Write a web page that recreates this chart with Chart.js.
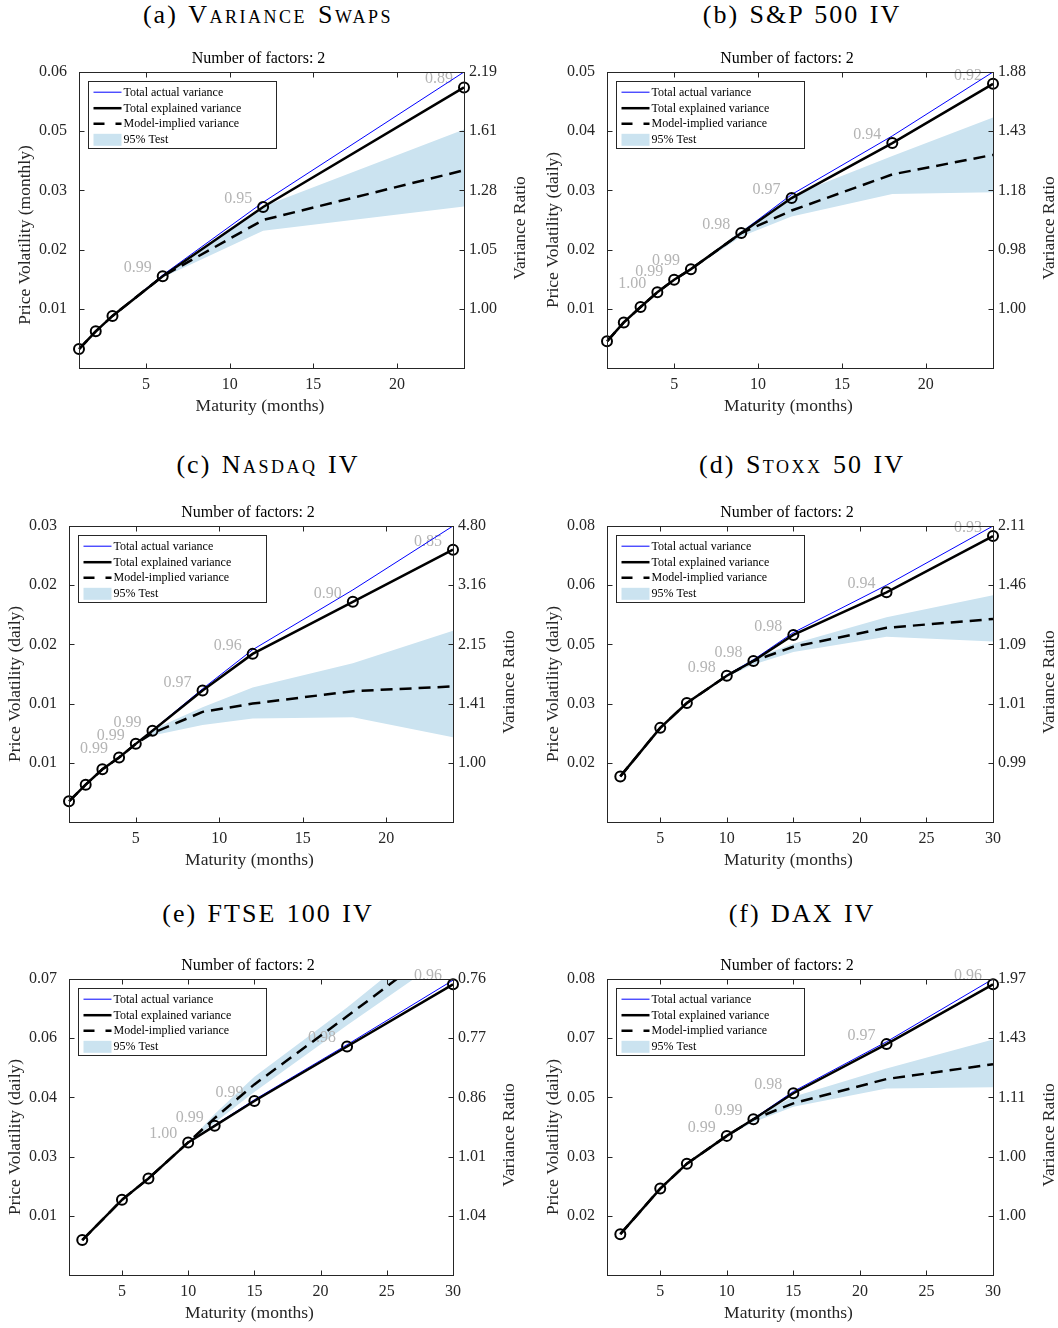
<!DOCTYPE html>
<html><head><meta charset="utf-8">
<script src="https://cdn.jsdelivr.net/npm/chart.js@4.4.1/dist/chart.umd.min.js"></script>
<style>
html,body{margin:0;padding:0;background:#fff;width:1058px;height:1328px;overflow:hidden;}
#fig{position:relative;width:1058px;height:1328px;}
canvas{position:absolute;}
.cap{position:absolute;font-family:'Liberation Serif','Times New Roman',serif;font-size:26px;line-height:30px;letter-spacing:2px;word-spacing:2px;text-align:center;white-space:nowrap;color:#000;}
.sc{font-variant:small-caps;letter-spacing:2.5px;}
</style></head><body>
<div id="fig">
  <div class="cap" style="left:0;width:536px;top:0px">(a) <span class="sc">Variance Swaps</span></div>
  <div class="cap" style="left:529px;width:546px;top:0px">(b) S&amp;P 500 IV</div>
  <div class="cap" style="left:0;width:536px;top:450px">(c) <span class="sc">Nasdaq</span> IV</div>
  <div class="cap" style="left:529px;width:546px;top:450px">(d) <span class="sc">Stoxx</span> 50 IV</div>
  <div class="cap" style="left:0;width:536px;top:899px">(e) FTSE 100 IV</div>
  <div class="cap" style="left:529px;width:546px;top:899px">(f) DAX IV</div>
  <canvas id="ca" width="529" height="382" style="left:0;top:40px"></canvas>
  <canvas id="cb" width="529" height="382" style="left:529px;top:40px"></canvas>
  <canvas id="cc" width="529" height="382" style="left:0;top:494px"></canvas>
  <canvas id="cd" width="529" height="382" style="left:529px;top:494px"></canvas>
  <canvas id="ce" width="529" height="382" style="left:0;top:947px"></canvas>
  <canvas id="cf" width="529" height="382" style="left:529px;top:947px"></canvas>
</div>
<script>
// ---------- DATA (y values are in axis position units: tick k of 1..5 carries tick label k) ----------
const xTicksShort = [5, 10, 15, 20];
const xTicksLong = [5, 10, 15, 20, 25, 30];
const yTickPositions = [1, 2, 3, 4, 5];

// (a) Variance Swaps
const maturitiesA = [1, 2, 3, 6, 12, 24];
const actualA     = [0.32, 0.62, 0.88, 1.57, 2.80, 5.00];
const explainedA  = [0.32, 0.62, 0.88, 1.55, 2.72, 4.74];
const impliedA    = [0.32, 0.62, 0.88, 1.55, 2.50, 3.34];
const bandLoA     = [null, null, null, 1.53, 2.32, 2.73];
const bandHiA     = [null, null, null, 1.57, 2.73, 4.03];
const ratiosA     = [null, null, null, 0.99, 0.95, 0.89];
const leftTicksA  = ['0.01', '0.02', '0.03', '0.05', '0.06'];
const rightTicksA = ['1.00', '1.05', '1.28', '1.61', '2.19'];

// (b) S&P 500 IV
const maturitiesB = [1, 2, 3, 4, 5, 6, 9, 12, 18, 24];
const actualB     = [0.45, 0.77, 1.03, 1.28, 1.49, 1.67, 2.29, 2.93, 3.92, 5.00];
const explainedB  = [0.45, 0.77, 1.03, 1.28, 1.49, 1.67, 2.28, 2.87, 3.80, 4.80];
const impliedB    = [0.45, 0.77, 1.03, 1.28, 1.49, 1.67, 2.28, 2.66, 3.27, 3.60];
const bandLoB     = [null, null, null, null, null, 1.66, 2.22, 2.56, 2.94, 2.97];
const bandHiB     = [null, null, null, null, null, 1.68, 2.32, 2.91, 3.58, 4.23];
const ratiosB     = [null, null, null, 1.00, 0.99, 0.99, 0.98, 0.97, 0.94, 0.92];
const leftTicksB  = ['0.01', '0.02', '0.03', '0.04', '0.05'];
const rightTicksB = ['1.00', '0.98', '1.18', '1.43', '1.88'];

// (c) Nasdaq IV
const maturitiesC = [1, 2, 3, 4, 5, 6, 9, 12, 18, 24];
const actualC     = [0.35, 0.63, 0.89, 1.09, 1.32, 1.55, 2.25, 2.91, 3.92, 5.00];
const explainedC  = [0.35, 0.63, 0.89, 1.09, 1.32, 1.54, 2.22, 2.84, 3.72, 4.60];
const impliedC    = [0.35, 0.63, 0.89, 1.09, 1.32, 1.50, 1.86, 2.00, 2.21, 2.29];
const bandLoC     = [null, null, null, null, 1.32, 1.46, 1.64, 1.75, 1.77, 1.43];
const bandHiC     = [null, null, null, null, 1.32, 1.56, 1.94, 2.27, 2.68, 3.23];
const ratiosC     = [null, null, null, 0.99, 0.99, 0.99, 0.97, 0.96, 0.90, 0.85];
const leftTicksC  = ['0.01', '0.01', '0.02', '0.02', '0.03'];
const rightTicksC = ['1.00', '1.41', '2.15', '3.16', '4.80'];

// (d) Stoxx 50 IV
const maturitiesD = [2, 5, 7, 10, 12, 15, 22, 30];
const actualD     = [0.77, 1.59, 2.01, 2.48, 2.74, 3.20, 4.00, 5.00];
const explainedD  = [0.77, 1.59, 2.01, 2.47, 2.72, 3.16, 3.88, 4.83];
const impliedD    = [0.77, 1.59, 2.01, 2.47, 2.72, 2.96, 3.28, 3.43];
const bandLoD     = [null, null, null, 2.45, 2.66, 2.87, 3.13, 3.05];
const bandHiD     = [null, null, null, 2.49, 2.76, 3.01, 3.46, 3.83];
const ratiosD     = [null, null, null, 0.98, 0.98, 0.98, 0.94, 0.93];
const leftTicksD  = ['0.02', '0.03', '0.05', '0.06', '0.08'];
const rightTicksD = ['0.99', '1.01', '1.09', '1.46', '2.11'];

// (e) FTSE 100 IV
const maturitiesE = [2, 5, 7, 10, 12, 15, 22, 30];
const actualE     = [0.59, 1.27, 1.63, 2.24, 2.53, 2.96, 3.89, 4.98];
const explainedE  = [0.59, 1.27, 1.63, 2.24, 2.52, 2.94, 3.86, 4.91];
const impliedE    = [0.59, 1.27, 1.63, 2.24, 2.65, 3.22, 4.37, 5.71];
const bandLoE     = [null, null, null, 2.24, 2.57, 3.09, 4.22, 5.46];
const bandHiE     = [null, null, null, 2.24, 2.72, 3.35, 4.52, 5.96];
const ratiosE     = [null, null, null, 1.00, 0.99, 0.99, 0.98, 0.96];
const leftTicksE  = ['0.01', '0.03', '0.04', '0.06', '0.07'];
const rightTicksE = ['1.04', '1.01', '0.86', '0.77', '0.76'];

// (f) DAX IV
const maturitiesF = [2, 5, 7, 10, 12, 15, 22, 30];
const actualF     = [0.69, 1.46, 1.88, 2.35, 2.64, 3.10, 3.94, 5.00];
const explainedF  = [0.69, 1.46, 1.88, 2.35, 2.63, 3.07, 3.90, 4.91];
const impliedF    = [0.69, 1.46, 1.88, 2.35, 2.63, 2.90, 3.31, 3.56];
const bandLoF     = [null, null, null, 2.35, 2.58, 2.84, 3.15, 3.17];
const bandHiF     = [null, null, null, 2.35, 2.66, 3.01, 3.49, 3.98];
const ratiosF     = [null, null, null, 0.99, 0.99, 0.98, 0.97, 0.96];
const leftTicksF  = ['0.02', '0.03', '0.05', '0.07', '0.08'];
const rightTicksF = ['1.00', '1.00', '1.11', '1.43', '1.97'];

// ---------- STYLE / LAYOUT ----------
const SERIF = "'Liberation Serif', 'Times New Roman', serif";
const AXIS_COLOR = '#262626';
const BAND_COLOR = 'rgb(203,227,240)';
const LABEL_GREY = '#b4b4b4';

function pts(xs, ys) { return xs.map((m, i) => ({ x: m, y: ys[i] })); }

function decorPlugin(p) {
  return {
    id: 'decor',
    beforeDatasetsDraw(chart) {
      const { ctx, scales: { x, y } } = chart;
      ctx.save();
      ctx.font = '16px ' + SERIF;
      ctx.fillStyle = LABEL_GREY;
      ctx.textAlign = 'right';
      ctx.textBaseline = 'alphabetic';
      p.maturities.forEach((m, i) => {
        const r = p.ratios[i];
        if (r === null) return;
        ctx.fillText(r.toFixed(2), x.getPixelForValue(m) - 11, y.getPixelForValue(p.explained[i]) - 4);
      });
      ctx.restore();
    },
    afterDraw(chart) {
      const { ctx, chartArea: a, scales: { x, y } } = chart;
      ctx.save();
      ctx.strokeStyle = AXIS_COLOR;
      ctx.lineWidth = 1;
      const L = Math.round(a.left) + 0.5, R = Math.round(a.right) + 0.5;
      const T = Math.round(a.top) + 0.5, B = Math.round(a.bottom) + 0.5;
      ctx.beginPath();
      x.ticks.forEach(t => {
        const px = Math.round(x.getPixelForValue(t.value)) + 0.5;
        ctx.moveTo(px, B); ctx.lineTo(px, B - 5);
        ctx.moveTo(px, T); ctx.lineTo(px, T + 5);
      });
      y.ticks.forEach(t => {
        const py = Math.round(y.getPixelForValue(t.value)) + 0.5;
        ctx.moveTo(L, py); ctx.lineTo(L + 5, py);
        ctx.moveTo(R, py); ctx.lineTo(R - 5, py);
      });
      ctx.stroke();
      ctx.strokeRect(L, T, R - L, B - T);

      // axis titles
      const midY = (a.top + a.bottom) / 2;
      ctx.font = '17.5px ' + SERIF;
      ctx.fillStyle = AXIS_COLOR;
      ctx.textAlign = 'center';
      ctx.textBaseline = 'middle';
      ctx.fillText(p.xTitle, (a.left + a.right) / 2 - 11.5, a.bottom + 38.5);
      ctx.save();
      ctx.translate(a.left - 53.5, midY + p.yTitleShift);
      ctx.rotate(-Math.PI / 2);
      ctx.fillText(p.yTitle, 0, 0);
      ctx.restore();
      ctx.save();
      ctx.translate(a.right + 56, midY + 8);
      ctx.rotate(-Math.PI / 2);
      ctx.fillText(p.rightTitle, 0, 0);
      ctx.restore();

      // legend box
      const ds = chart.data.datasets;
      const bx = Math.round(a.left + 9) + 0.5, by = Math.round(a.top + 9) + 0.5, bw = 188, bh = 67;
      ctx.fillStyle = '#fff';
      ctx.fillRect(bx, by, bw, bh);
      ctx.strokeStyle = AXIS_COLOR;
      ctx.lineWidth = 1;
      ctx.strokeRect(bx, by, bw, bh);
      const rows = [10.7, 26.7, 42.3, 58.3];
      const sx0 = bx + 5, sx1 = bx + 33, tx = bx + 35;
      const items = [ds[0], ds[1], ds[2], ds[4]];
      items.forEach((d, k) => {
        const ry = by + rows[k];
        if (k < 3) {
          ctx.beginPath();
          ctx.strokeStyle = d.borderColor;
          ctx.lineWidth = d.borderWidth;
          ctx.setLineDash(k === 2 ? [11, 11] : []);
          ctx.moveTo(sx0, ry); ctx.lineTo(sx1, ry);
          ctx.stroke();
          ctx.setLineDash([]);
        } else {
          ctx.fillStyle = d.backgroundColor;
          ctx.fillRect(sx0, ry - 6, sx1 - sx0, 12);
        }
        ctx.font = '12px ' + SERIF;
        ctx.fillStyle = '#000';
        ctx.textAlign = 'left';
        ctx.textBaseline = 'middle';
        ctx.fillText(d.label, tx, ry + 0.5);
      });
      ctx.restore();
    }
  };
}

function makePanel(c) {
  const tickFont = { family: SERIF, size: 16 };
  new Chart(document.getElementById(c.id), {
    type: 'line',
    data: {
      datasets: [
        { label: 'Total actual variance', data: pts(c.maturities, c.actual), borderColor: '#0000ff', borderWidth: 1,
          pointRadius: 0, tension: 0, fill: false, order: 2 },
        { label: 'Total explained variance', data: pts(c.maturities, c.explained), borderColor: '#000', borderWidth: 2.5,
          pointRadius: 5, pointBorderWidth: 2, pointBorderColor: '#000', pointBackgroundColor: 'rgba(0,0,0,0)',
          tension: 0, fill: false, clip: 8, order: 0 },
        { label: 'Model-implied variance', data: pts(c.maturities, c.implied), borderColor: '#000', borderWidth: 2.5,
          borderDash: [12, 7], pointRadius: 0, tension: 0, fill: false, order: 1 },
        { label: '95% Test lower', data: pts(c.maturities, c.bandLo), borderColor: 'rgba(0,0,0,0)', borderWidth: 0,
          pointRadius: 0, tension: 0, fill: false, order: 4 },
        { label: '95% Test', data: pts(c.maturities, c.bandHi), borderColor: 'rgba(0,0,0,0)', borderWidth: 0,
          backgroundColor: BAND_COLOR, pointRadius: 0, tension: 0, fill: '-1', order: 3 }
      ]
    },
    options: {
      responsive: false,
      animation: false,
      events: [],
      layout: { padding: { top: 0, left: 0, bottom: 0, right: c.padRight } },
      plugins: {
        legend: { display: false },
        tooltip: { enabled: false },
        filler: { drawTime: 'beforeDatasetsDraw' },
        title: { display: true, text: 'Number of factors: 2', color: '#000',
          font: { family: SERIF, size: 16, weight: 'normal' }, padding: { top: 9, bottom: 3.8 } }
      },
      scales: {
        x: {
          type: 'linear', min: c.xMin, max: c.xMax,
          afterBuildTicks: s => { s.ticks = c.xTicks.map(v => ({ value: v })); },
          afterFit: s => { s.height = 54; },
          grid: { display: false, drawTicks: false },
          border: { display: false },
          ticks: { font: tickFont, color: AXIS_COLOR, padding: 7.5, maxRotation: 0, autoSkip: false },
          title: { display: false, text: 'Maturity (months)' }
        },
        y: {
          type: 'linear', position: 'left', min: 0, max: 5,
          afterBuildTicks: s => { s.ticks = yTickPositions.map(v => ({ value: v })); },
          afterFit: s => { s.width = c.wl; },
          grid: { display: false, drawTicks: false },
          border: { display: false },
          ticks: { font: tickFont, color: AXIS_COLOR, padding: 12, callback: (v, i) => c.leftTicks[i] },
          title: { display: false, text: c.yTitle }
        },
        y1: {
          type: 'linear', position: 'right', min: 0, max: 5,
          afterBuildTicks: s => { s.ticks = yTickPositions.map(v => ({ value: v })); },
          afterFit: s => { s.width = c.wr; },
          grid: { display: false, drawTicks: false },
          border: { display: false },
          ticks: { font: tickFont, color: AXIS_COLOR, padding: 5, callback: (v, i) => c.rightTicks[i] },
          title: { display: false, text: 'Variance Ratio' }
        }
      }
    },
    plugins: [decorPlugin({ maturities: c.maturities, explained: c.explained, ratios: c.ratios,
      xTitle: 'Maturity (months)', yTitle: c.yTitle, yTitleShift: c.yShift, rightTitle: 'Variance Ratio' })]
  });
}

makePanel({ id: 'ca', wl: 79, wr: 53, padRight: 12, xMin: 1, xMax: 24, xTicks: xTicksShort, yShift: 15,
  yTitle: 'Price Volatility (monthly)', leftTicks: leftTicksA, rightTicks: rightTicksA,
  maturities: maturitiesA, actual: actualA, explained: explainedA, implied: impliedA, bandLo: bandLoA, bandHi: bandHiA, ratios: ratiosA });
makePanel({ id: 'cb', wl: 78, wr: 52, padRight: 13, xMin: 1, xMax: 24, xTicks: xTicksShort, yShift: 10,
  yTitle: 'Price Volatility (daily)', leftTicks: leftTicksB, rightTicks: rightTicksB,
  maturities: maturitiesB, actual: actualB, explained: explainedB, implied: impliedB, bandLo: bandLoB, bandHi: bandHiB, ratios: ratiosB });
makePanel({ id: 'cc', wl: 69, wr: 43, padRight: 33, xMin: 1, xMax: 24, xTicks: xTicksShort, yShift: 10,
  yTitle: 'Price Volatility (daily)', leftTicks: leftTicksC, rightTicks: rightTicksC,
  maturities: maturitiesC, actual: actualC, explained: explainedC, implied: impliedC, bandLo: bandLoC, bandHi: bandHiC, ratios: ratiosC });
makePanel({ id: 'cd', wl: 78, wr: 52, padRight: 13, xMin: 1, xMax: 30, xTicks: xTicksLong, yShift: 10,
  yTitle: 'Price Volatility (daily)', leftTicks: leftTicksD, rightTicks: rightTicksD,
  maturities: maturitiesD, actual: actualD, explained: explainedD, implied: impliedD, bandLo: bandLoD, bandHi: bandHiD, ratios: ratiosD });
makePanel({ id: 'ce', wl: 69, wr: 43, padRight: 33, xMin: 1, xMax: 30, xTicks: xTicksLong, yShift: 10,
  yTitle: 'Price Volatility (daily)', leftTicks: leftTicksE, rightTicks: rightTicksE,
  maturities: maturitiesE, actual: actualE, explained: explainedE, implied: impliedE, bandLo: bandLoE, bandHi: bandHiE, ratios: ratiosE });
makePanel({ id: 'cf', wl: 78, wr: 52, padRight: 13, xMin: 1, xMax: 30, xTicks: xTicksLong, yShift: 10,
  yTitle: 'Price Volatility (daily)', leftTicks: leftTicksF, rightTicks: rightTicksF,
  maturities: maturitiesF, actual: actualF, explained: explainedF, implied: impliedF, bandLo: bandLoF, bandHi: bandHiF, ratios: ratiosF });
</script>
</body></html>
